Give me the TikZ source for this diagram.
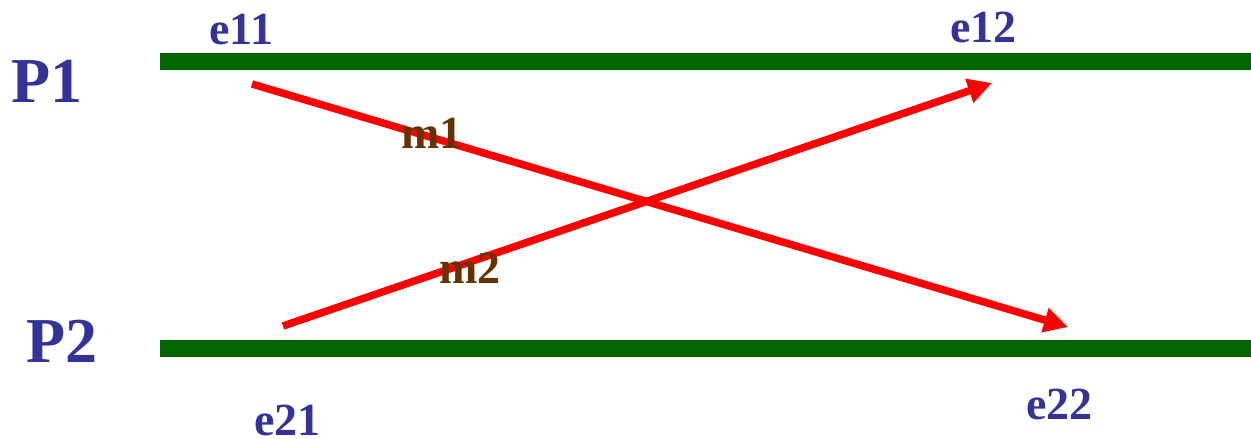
\documentclass[tikz,border=0pt]{standalone}
\usepackage{fontspec}
\setmainfont{Liberation Serif}
\usetikzlibrary{arrows.meta}
\definecolor{pblue}{HTML}{333399}
\definecolor{pgreen}{HTML}{006600}
\definecolor{pred}{HTML}{FF0000}
\definecolor{pbrown}{HTML}{663300}
\begin{document}
\begin{tikzpicture}[x=1pt,y=-1pt,
  proc/.style={anchor=base west,inner sep=0pt,text=pblue,font=\bfseries\fontsize{64}{64}\selectfont},
  evt/.style={anchor=base west,inner sep=0pt,text=pblue,font=\bfseries\fontsize{46}{46}\selectfont},
  msglabel/.style={anchor=base west,inner sep=0pt,text=pbrown,font=\bfseries\fontsize{46}{46}\selectfont},
  timeline/.style={draw=pgreen,line width=17pt},
  msg/.style={draw=pred,line width=7.5pt,-{Triangle[length=24pt,width=24pt]}}]
\useasboundingbox (0,0) rectangle (1251,439);
% process labels
\node[proc] (p1) at (11,102) {P1};
\node[proc] (p2) at (26,362) {P2};
% timelines
\coordinate (l1s) at (160,61.5);
\coordinate (l1e) at (1251,61.5);
\coordinate (l2s) at (160,348);
\coordinate (l2e) at (1251,348);
\draw[timeline] (l1s) -- (l1e);
\draw[timeline] (l2s) -- (l2e);
% event labels
\node[evt] (e11) at (209,44) {e11};
\node[evt] (e12) at (950,42) {e12};
\node[evt] (e21) at (254,435) {e21};
\node[evt] (e22) at (1026,419) {e22};
% messages
\coordinate (m1s) at (252,84);
\coordinate (m1e) at (1068,327);
\coordinate (m2s) at (283,326);
\coordinate (m2e) at (992,83);
\draw[msg] (m1s) -- (m1e);
\draw[msg] (m2s) -- (m2e);
\node[msglabel] (m1) at (401,148) {m1};
\node[msglabel] (m2) at (439,283) {m2};
\end{tikzpicture}
\end{document}
